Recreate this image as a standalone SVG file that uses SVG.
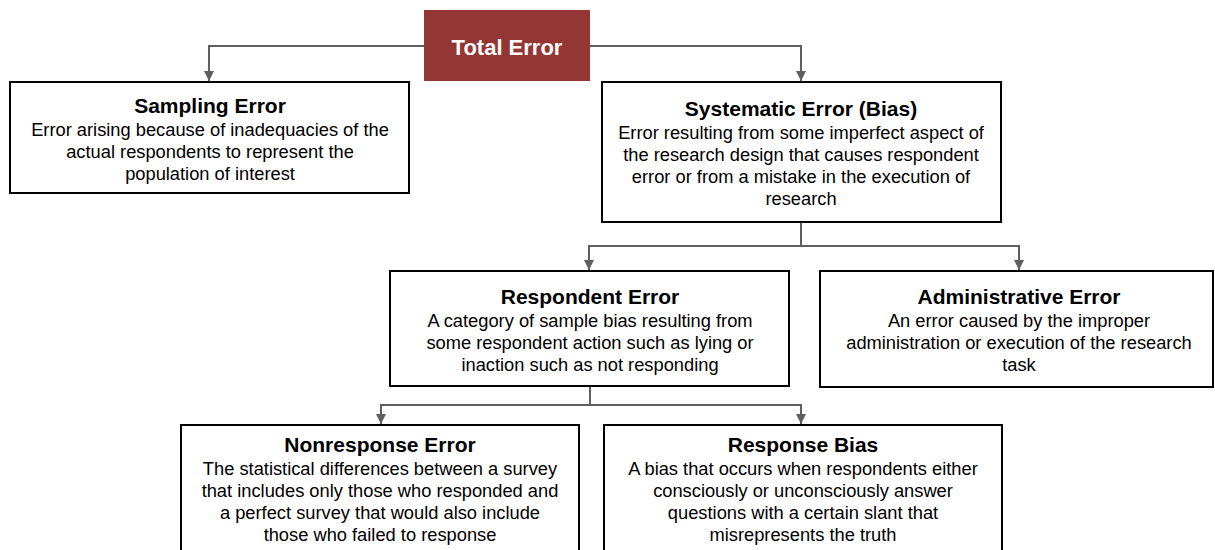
<svg xmlns="http://www.w3.org/2000/svg" width="1215" height="550" viewBox="0 0 1215 550">
<style>
.box{fill:#fff;stroke:#000;stroke-width:2}
.ttl{font-family:"Liberation Sans",Arial,sans-serif;font-weight:bold;font-size:21px;fill:#000;text-anchor:middle}
.bd{font-family:"Liberation Sans",Arial,sans-serif;font-size:18.3px;fill:#000;text-anchor:middle}
.con{fill:none;stroke:#5f5f5f;stroke-width:2}
</style>
<defs>
<marker id="ah" viewBox="0 0 10 10" refX="10" refY="5" markerWidth="10" markerHeight="10" markerUnits="userSpaceOnUse" orient="auto"><path d="M0,0 L10,5 L0,10 z" fill="#5f5f5f"/></marker>
</defs>
<g id="connectors">
<path class="con" d="M424,46 H209 V81" marker-end="url(#ah)"/>
<path class="con" d="M590,46 H801 V81" marker-end="url(#ah)"/>
<path class="con" d="M801,222 V246"/>
<path class="con" d="M1019,246 H589 V270" marker-end="url(#ah)"/>
<path class="con" d="M801,246 H1019 V270" marker-end="url(#ah)"/>
<path class="con" d="M590,386 V405"/>
<path class="con" d="M801,405 H381 V424" marker-end="url(#ah)"/>
<path class="con" d="M590,405 H801 V424" marker-end="url(#ah)"/>
</g>
<g id="total">
<rect x="424" y="10" width="166" height="71" fill="#943634"/>
<text x="507" y="55" class="ttl" style="fill:#fff;font-size:22px">Total Error</text>
</g>
<g id="sampling">
<rect class="box" x="10" y="82" width="399" height="111"/>
<text x="210" y="113" class="ttl">Sampling Error</text>
<text class="bd"><tspan x="210" y="136">Error arising because of inadequacies of the</tspan><tspan x="210" y="158">actual respondents to represent the</tspan><tspan x="210" y="180">population of interest</tspan></text>
</g>
<g id="systematic">
<rect class="box" x="602" y="82" width="399" height="140"/>
<text x="801" y="116" class="ttl">Systematic Error (Bias)</text>
<text class="bd"><tspan x="801" y="139">Error resulting from some imperfect aspect of</tspan><tspan x="801" y="161">the research design that causes respondent</tspan><tspan x="801" y="183">error or from a mistake in the execution of</tspan><tspan x="801" y="205">research</tspan></text>
</g>
<g id="respondent">
<rect class="box" x="390" y="271" width="399" height="115"/>
<text x="590" y="304" class="ttl">Respondent Error</text>
<text class="bd"><tspan x="590" y="327">A category of sample bias resulting from</tspan><tspan x="590" y="349">some respondent action such as lying or</tspan><tspan x="590" y="371">inaction such as not responding</tspan></text>
</g>
<g id="administrative">
<rect class="box" x="820" y="271" width="393" height="116"/>
<text x="1019" y="304" class="ttl">Administrative Error</text>
<text class="bd"><tspan x="1019" y="327">An error caused by the improper</tspan><tspan x="1019" y="349">administration or execution of the research</tspan><tspan x="1019" y="371">task</tspan></text>
</g>
<g id="nonresponse">
<rect class="box" x="181" y="425" width="398" height="135"/>
<text x="380" y="452" class="ttl">Nonresponse Error</text>
<text class="bd"><tspan x="380" y="475">The statistical differences between a survey</tspan><tspan x="380" y="497">that includes only those who responded and</tspan><tspan x="380" y="519">a perfect survey that would also include</tspan><tspan x="380" y="541">those who failed to response</tspan></text>
</g>
<g id="responsebias">
<rect class="box" x="604" y="425" width="398" height="135"/>
<text x="803" y="452" class="ttl">Response Bias</text>
<text class="bd"><tspan x="803" y="475">A bias that occurs when respondents either</tspan><tspan x="803" y="497">consciously or unconsciously answer</tspan><tspan x="803" y="519">questions with a certain slant that</tspan><tspan x="803" y="541">misrepresents the truth</tspan></text>
</g>
</svg>
